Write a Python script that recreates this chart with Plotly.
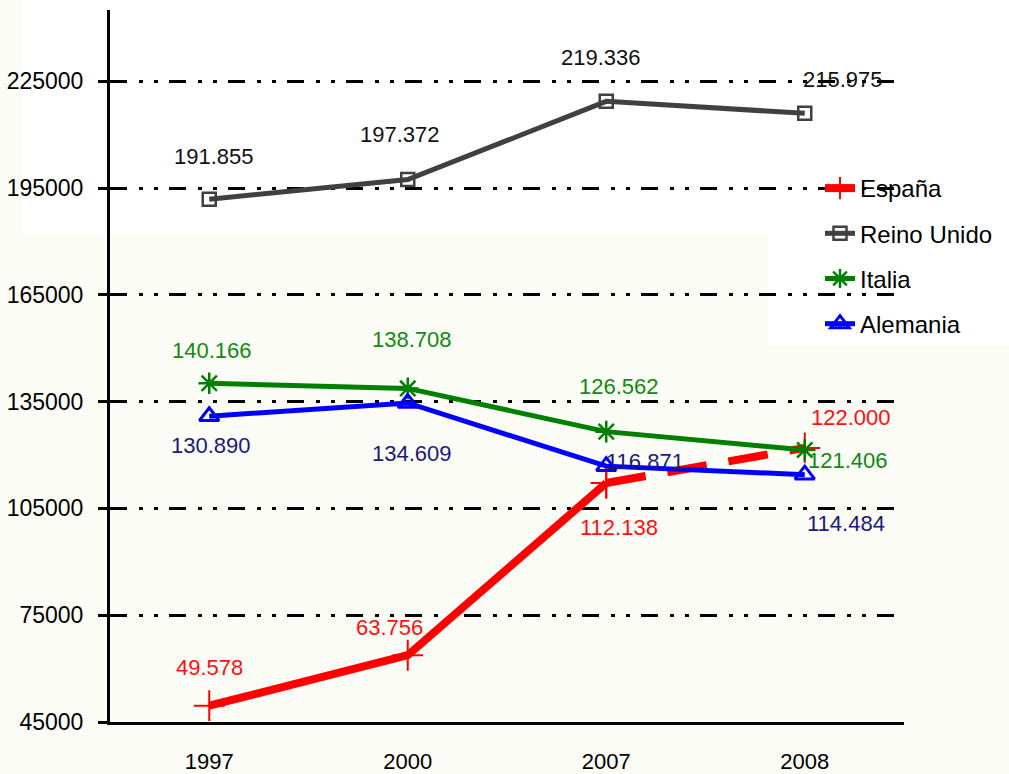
import plotly.graph_objects as go

years = ["1997", "2000", "2007", "2008"]
espana = [49578, 63756, 112138, 122000]
reino_unido = [191855, 197372, 219336, 215975]
italia = [140166, 138708, 126562, 121406]
alemania = [130890, 134609, 116871, 114484]
y_ticks = [45000, 75000, 105000, 135000, 165000, 195000, 225000]

FONT = "Liberation Sans, Arial, sans-serif"

L, R, T, B = 110, 105, 10, 52
PW = 1009 - L - R
PH = 774 - T - B

def fmt(v):
    return f"{v:,}".replace(",", ".")

fig = go.Figure()

# España (solid up to 2007, dashed to 2008)
fig.add_trace(go.Scatter(
    x=years[:3], y=espana[:3], name="España", mode="lines+markers",
    legendgroup="es",
    line=dict(color="#ff0000", width=8),
    marker=dict(symbol="cross-thin-open", size=22, color="#ff0000",
                line=dict(color="#ff0000", width=2)),
))
fig.add_trace(go.Scatter(
    x=years[2:], y=espana[2:], name="España", mode="lines+markers",
    legendgroup="es", showlegend=False,
    line=dict(color="#ff0000", width=8, dash="40px,22px"),
    marker=dict(symbol="cross-thin-open", size=22, color="#ff0000",
                line=dict(color="#ff0000", width=2)),
))
fig.add_trace(go.Scatter(
    x=years, y=reino_unido, name="Reino Unido", mode="lines+markers",
    legendgroup="uk",
    line=dict(color="#404040", width=5),
    marker=dict(symbol="square-open", size=13, color="#404040",
                line=dict(color="#404040", width=2.5)),
))
fig.add_trace(go.Scatter(
    x=years, y=italia, name="Italia", mode="lines+markers",
    legendgroup="it",
    line=dict(color="#008000", width=5),
    marker=dict(symbol="asterisk-open", size=18, color="#008000",
                line=dict(color="#008000", width=2.5)),
))
fig.add_trace(go.Scatter(
    x=years, y=alemania, name="Alemania", mode="lines+markers",
    legendgroup="de",
    line=dict(color="#0000ff", width=5),
    marker=dict(symbol="triangle-up-open", size=17, color="#0000ff",
                line=dict(color="#0000ff", width=3)),
))

# Data labels: (series, color, offsets in px (dx, dy) with dy positive = down)
label_specs = [
    (espana, "#ff1010", [(0, -38), (-18, -28), (13, 45), (46, -30)]),
    (reino_unido, "#111111", [(5, -43), (-8, -45), (-5, -44), (38, -34)]),
    (italia, "#108a10", [(3, -33), (4, -49), (13, -45), (43, 11)]),
    (alemania, "#1a1a7a", [(2, 29), (4, 51), (39, -5), (41, 49)]),
]
for values, color, offs in label_specs:
    for i, (v, (dx, dy)) in enumerate(zip(values, offs)):
        fig.add_annotation(
            x=i, y=v, xref="x", yref="y", text=fmt(v), showarrow=False,
            xshift=dx, yshift=-dy,
            font=dict(family=FONT, size=22, color=color),
        )

# background patches (white areas of the original picture)
fig.add_shape(type="rect", xref="paper", yref="paper", layer="below",
              x0=(22 - L) / PW, x1=(1020 - L) / PW,
              y0=(722 - 234) / PH, y1=(722 + 10) / PH,
              fillcolor="#ffffff", line=dict(width=0))
fig.add_shape(type="rect", xref="paper", yref="paper", layer="below",
              x0=(768 - L) / PW, x1=(1020 - L) / PW,
              y0=(722 - 345) / PH, y1=(722 - 230) / PH,
              fillcolor="#ffffff", line=dict(width=0))

fig.update_layout(
    width=1009, height=774,
    margin=dict(l=L, r=R, t=T, b=B),
    paper_bgcolor="#fcfcf6",
    plot_bgcolor="rgba(0,0,0,0)",
    font=dict(family=FONT, size=22, color="#000000"),
    showlegend=True,
    legend=dict(
        x=(820 - L) / PW, y=(722 - 166) / PH,
        xanchor="left", yanchor="top",
        bgcolor="rgba(0,0,0,0)",
        font=dict(family=FONT, size=24, color="#000000"),
        traceorder="grouped", tracegroupgap=11,
    ),
    xaxis=dict(
        type="category", range=[-0.5, 3.5],
        showline=True, linecolor="#000000", linewidth=3,
        showgrid=False, zeroline=False, ticks="",
        ticklabelstandoff=18, automargin=False,
        tickfont=dict(family=FONT, size=22, color="#000000"),
    ),
    yaxis=dict(
        range=[45000, 245000],
        tickmode="array", tickvals=y_ticks, ticktext=[str(t) for t in y_ticks],
        showline=True, linecolor="#000000", linewidth=3,
        ticks="outside", ticklen=9, tickwidth=3, tickcolor="#000000",
        ticklabelstandoff=10, automargin=False,
        showgrid=True, gridcolor="#000000", gridwidth=3,
        griddash="17px,12px,4px,11px,4px,11px",
        zeroline=False,
        tickfont=dict(family=FONT, size=23, color="#000000"),
    ),
)

fig.write_html("out.html", config={"displayModeBar": False},
               post_script="document.body.style.margin='0';document.body.style.overflow='hidden';")
